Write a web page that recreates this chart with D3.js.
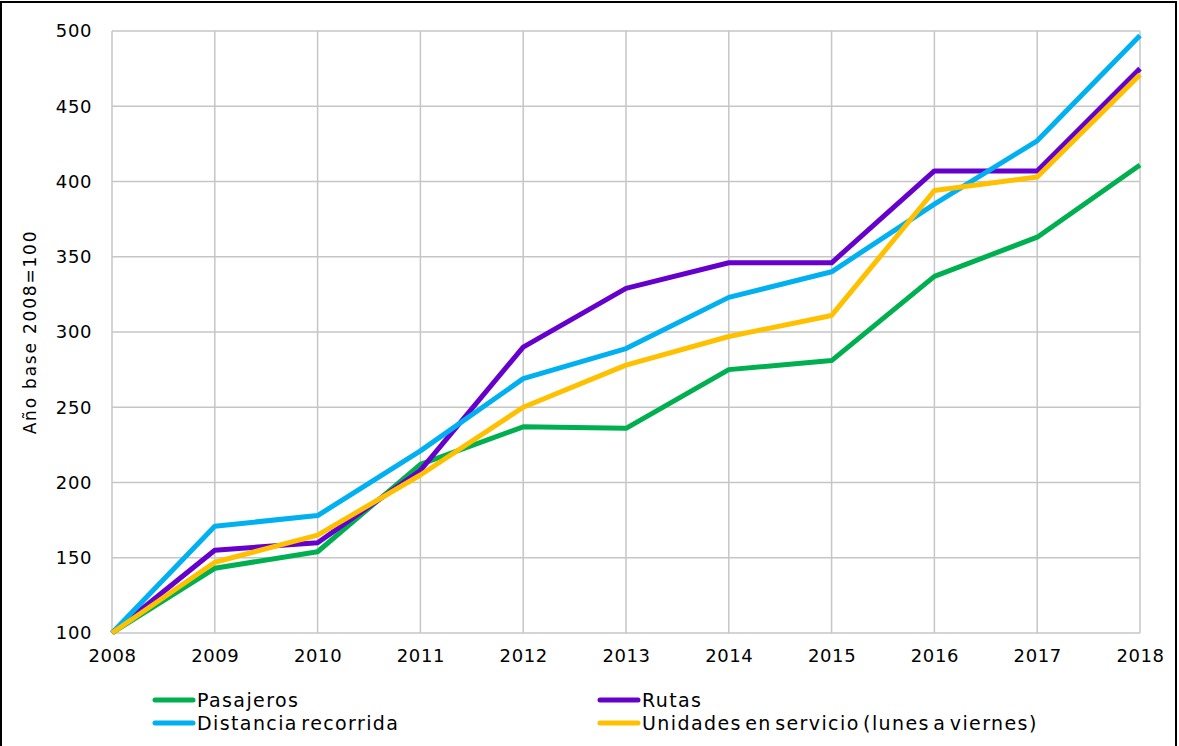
<!DOCTYPE html>
<html>
<head>
<meta charset="utf-8">
<script src="https://cdn.jsdelivr.net/npm/d3@7"></script>
<style>
  body { margin: 0; background: #fff; }
  text { font-family: "Century Gothic", "DejaVu Sans", sans-serif; fill: #000; }
</style>
</head>
<body>
<script>
// data (index 2008 = 100)
var years = [2008, 2009, 2010, 2011, 2012, 2013, 2014, 2015, 2016, 2017, 2018];
var pasajeros = [100, 143, 154, 212, 237, 236, 275, 281, 337, 363, 411];
var rutas     = [100, 155, 160, 208, 290, 329, 346, 346, 407, 407, 475];
var distancia = [100, 171, 178, 221, 269, 289, 323, 340, 385, 427, 497];
var unidades  = [100, 147, 165, 205, 250, 278, 297, 311, 394, 403, 471];
var yTicks = [100, 150, 200, 250, 300, 350, 400, 450, 500];

var series = [
  {name: "Pasajeros", values: pasajeros, color: "#00B050"},
  {name: "Rutas", values: rutas, color: "#6600CC"},
  {name: "Distancia recorrida", values: distancia, color: "#00B0F0"},
  {name: "Unidades en servicio (lunes a viernes)", values: unidades, color: "#FFC000"}
];

var W = 1179, H = 746;
var margin = {top: 31, right: 39, bottom: 113, left: 112},
    width = W - margin.left - margin.right,
    height = H - margin.top - margin.bottom;

var svg = d3.select("body").append("svg")
  .attr("width", W)
  .attr("height", H);

// outer frame
svg.append("rect")
  .attr("x", 1).attr("y", 2)
  .attr("width", 1175).attr("height", 750)
  .attr("fill", "none")
  .attr("stroke", "#000")
  .attr("stroke-width", 2);

var g = svg.append("g")
  .attr("transform", "translate(" + margin.left + "," + margin.top + ")");

var x = d3.scaleLinear().domain([2008, 2018]).range([0, width]);
var y = d3.scaleLinear().domain([100, 500]).range([height, 0]);

// horizontal gridlines
g.selectAll(".hgrid")
  .data(yTicks)
  .enter().append("line")
  .attr("x1", 0).attr("x2", width)
  .attr("y1", function(d) { return y(d); })
  .attr("y2", function(d) { return y(d); })
  .attr("stroke", "#c6c6c6")
  .attr("stroke-width", 1.5);

// vertical gridlines
g.selectAll(".vgrid")
  .data(years)
  .enter().append("line")
  .attr("x1", function(d) { return x(d); })
  .attr("x2", function(d) { return x(d); })
  .attr("y1", 0).attr("y2", height)
  .attr("stroke", "#c6c6c6")
  .attr("stroke-width", 1.5);

// y axis labels
var yAxis = d3.axisLeft(y).tickValues(yTicks).tickSize(0).tickPadding(20);
g.append("g")
  .call(yAxis)
  .call(function(s) { s.select(".domain").remove(); })
  .selectAll("text")
  .style("font-size", "18px")
  .style("letter-spacing", "0.6px")
  .attr("fill", "#000");

// x axis labels
var xAxis = d3.axisBottom(x).tickValues(years).tickFormat(d3.format("d")).tickSize(0).tickPadding(16);
g.append("g")
  .attr("transform", "translate(0," + height + ")")
  .call(xAxis)
  .call(function(s) { s.select(".domain").remove(); })
  .selectAll("text")
  .style("font-size", "18px")
  .style("letter-spacing", "0.6px")
  .attr("fill", "#000");

// y axis title
svg.append("text")
  .attr("transform", "translate(36," + (margin.top + height / 2) + ") rotate(-90)")
  .style("text-anchor", "middle")
  .style("font-size", "17px")
  .style("letter-spacing", "1.8px")
  .text("Año base 2008=100");

// lines
var line = d3.line()
  .x(function(d, i) { return x(years[i]); })
  .y(function(d) { return y(d); });

g.selectAll(".series")
  .data(series)
  .enter().append("path")
  .attr("class", "series")
  .attr("d", function(d) { return line(d.values); })
  .attr("fill", "none")
  .attr("stroke", function(d) { return d.color; })
  .attr("stroke-width", 5)
  .attr("stroke-linejoin", "round");

// legend
var legendPos = [[153, 700], [598, 700], [153, 723], [598, 723]];
var legend = svg.selectAll(".legend")
  .data(series)
  .enter().append("g")
  .attr("class", "legend")
  .attr("transform", function(d, i) { return "translate(" + legendPos[i][0] + "," + legendPos[i][1] + ")"; });

legend.append("line")
  .attr("x1", 2).attr("x2", 40)
  .attr("y1", 0).attr("y2", 0)
  .attr("stroke", function(d) { return d.color; })
  .attr("stroke-width", 5)
  .attr("stroke-linecap", "round");

legend.append("text")
  .attr("x", 44)
  .attr("y", 0)
  .attr("dy", "0.35em")
  .style("font-size", "19px")
  .style("letter-spacing", "1.4px")
  .style("word-spacing", "-4px")
  .text(function(d) { return d.name; });
</script>
</body>
</html>
